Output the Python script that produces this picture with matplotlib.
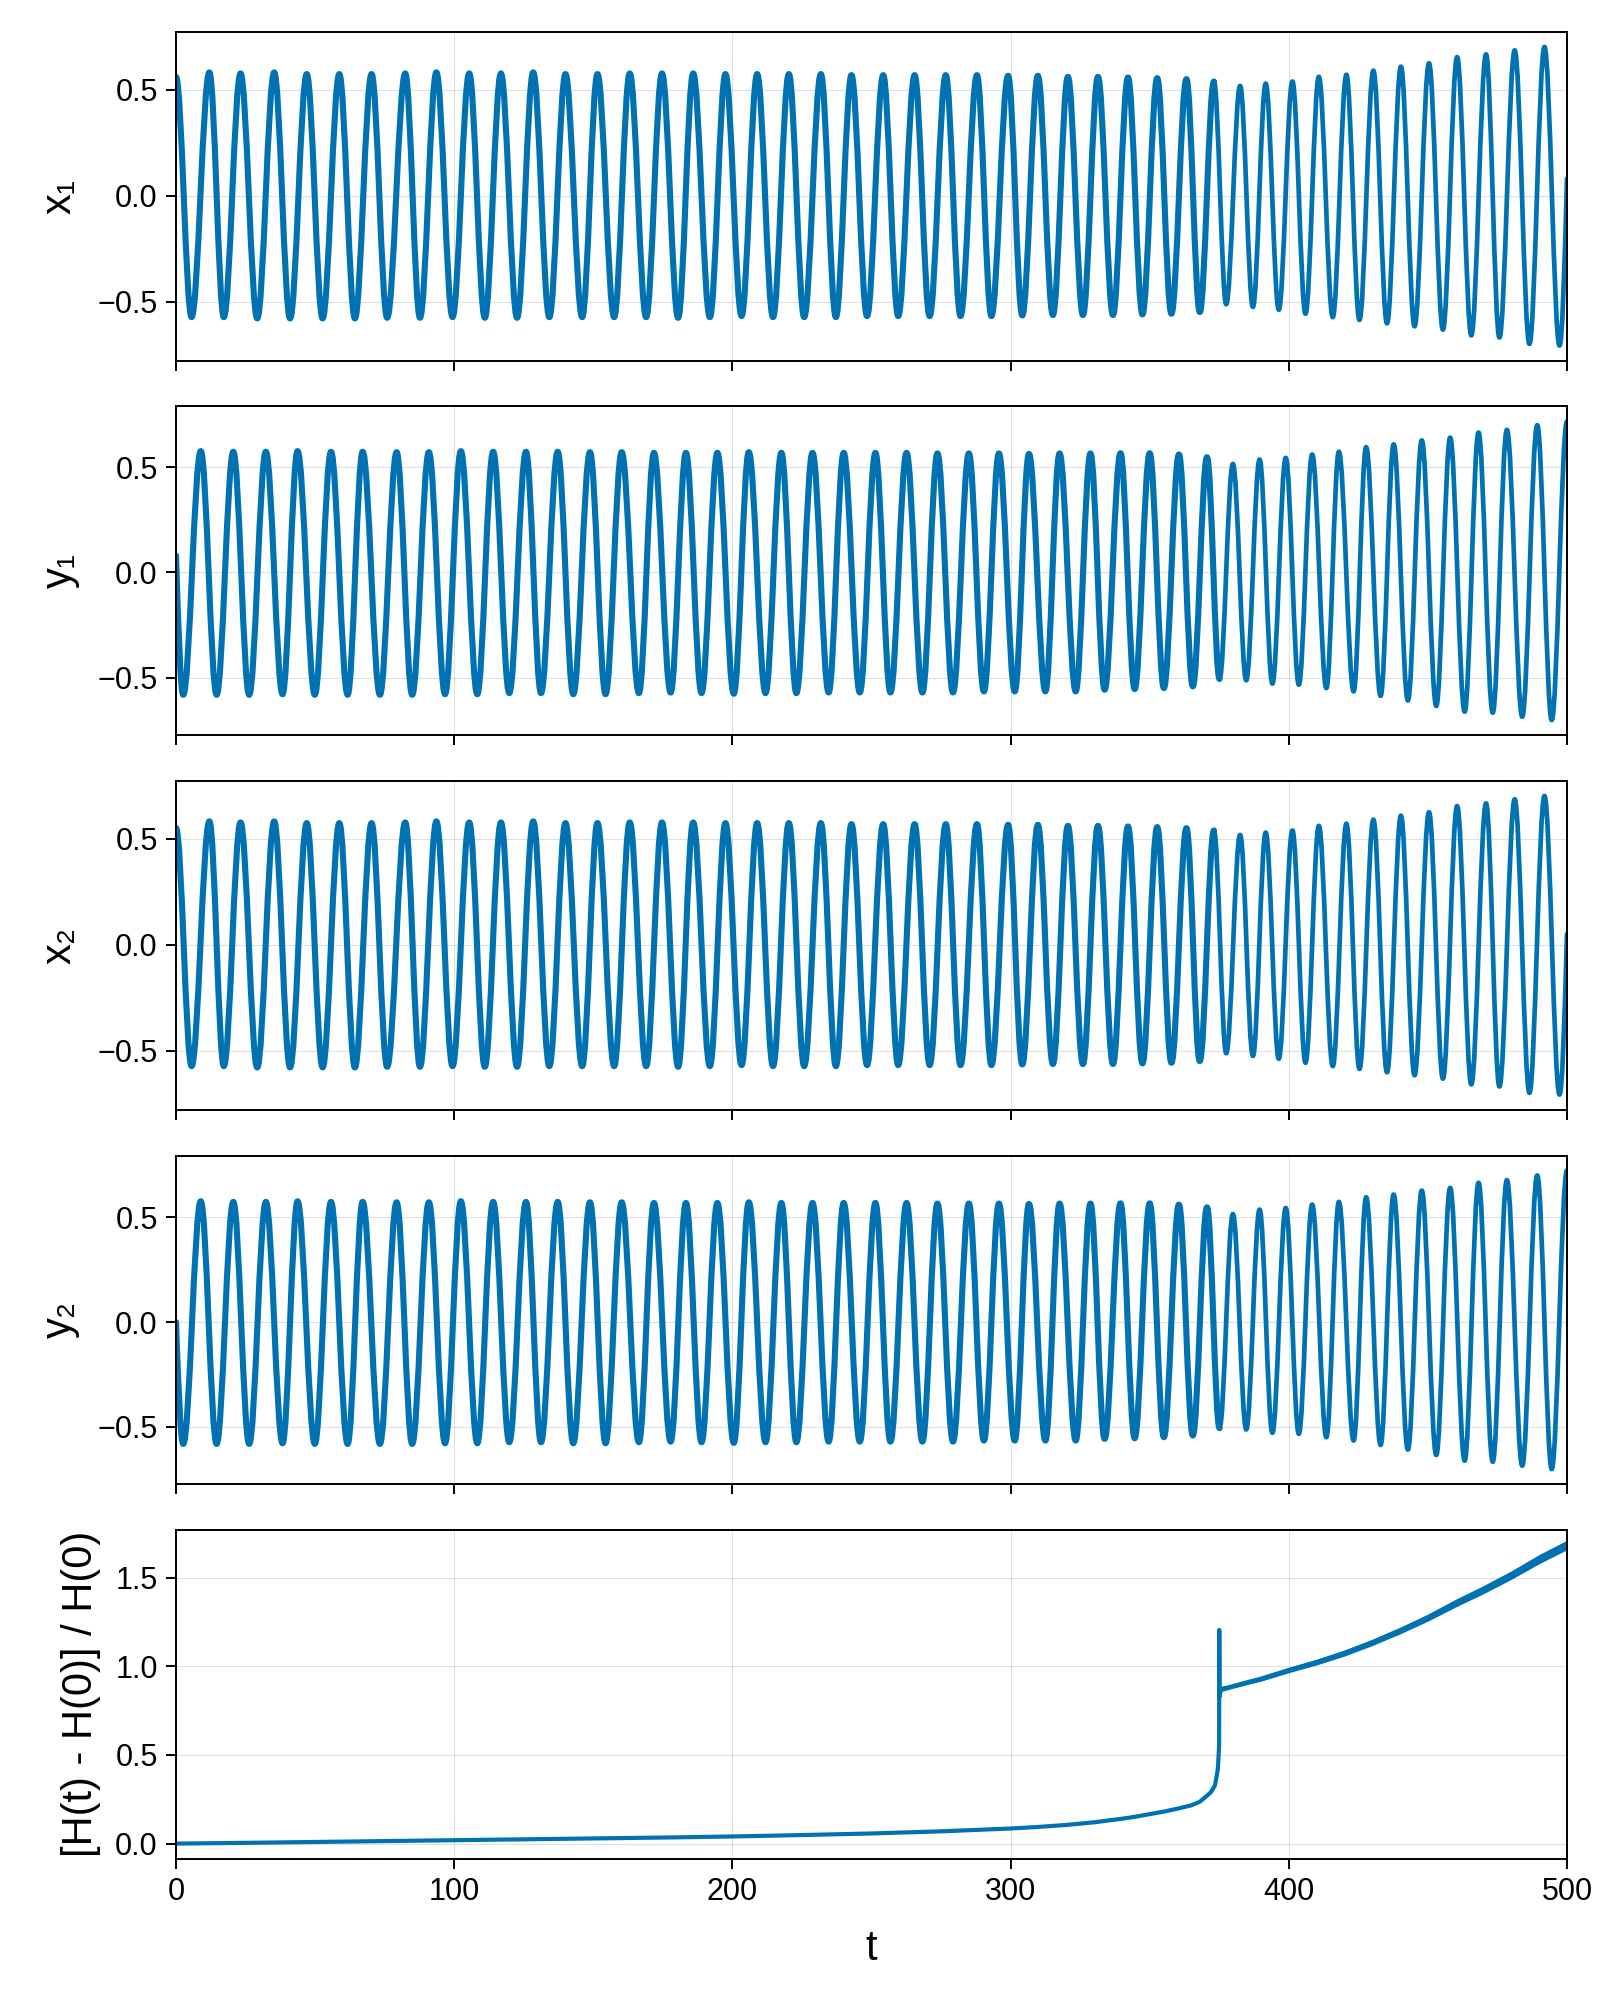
import numpy as np
import matplotlib
matplotlib.use("Agg")
from matplotlib import pyplot as plt
from matplotlib.path import Path
from matplotlib.patches import PathPatch

plt.rcParams['font.family'] = ['Liberation Sans', 'DejaVu Sans']

# extrema (time, value); the curves are drawn through them
x1_start = (0.0, 0.56)
x1_end = (500.0, 0.08)
x1_max_t = [12.0, 23.2, 35.3, 47.0, 58.7, 70.3, 82.4, 93.6, 105.4, 116.8, 128.4, 140.0, 151.5, 163.1,
            174.7, 185.9, 197.5, 208.9, 220.3, 231.8, 242.8, 254.2, 265.5, 276.7, 287.9, 299.1, 309.8,
            320.6, 331.4, 342.2, 352.7, 363.2, 373.1, 382.5, 391.7, 401.3, 410.8, 420.7, 430.4, 440.3,
            450.4, 460.5, 470.9, 481.2, 491.9]
x1_max_v = [0.581, 0.576, 0.581, 0.573, 0.573, 0.573, 0.576, 0.581, 0.576, 0.576, 0.581, 0.573, 0.573, 0.576,
            0.576, 0.576, 0.573, 0.573, 0.573, 0.573, 0.568, 0.568, 0.568, 0.568, 0.568, 0.565, 0.565,
            0.560, 0.560, 0.557, 0.554, 0.549, 0.538, 0.517, 0.528, 0.538, 0.560, 0.570, 0.589, 0.608,
            0.624, 0.653, 0.666, 0.685, 0.701]
x1_min_t = [5.6, 17.2, 29.2, 41.0, 52.7, 64.3, 75.9, 87.7, 99.4, 111.0, 122.6, 134.2, 146.0, 157.5, 169.0,
            180.5, 191.9, 203.3, 214.6, 225.8, 237.2, 248.4, 259.6, 270.9, 282.0, 293.1, 304.2, 315.2,
            326.0, 336.8, 347.4, 357.8, 368.0, 377.5, 387.1, 396.4, 406.0, 415.8, 425.4, 435.3, 445.2,
            455.4, 465.6, 475.7, 486.5, 497.3]
x1_min_v = [-0.573, -0.573, -0.579, -0.579, -0.579, -0.579, -0.576, -0.576, -0.573, -0.576, -0.576, -0.573,
            -0.573, -0.573, -0.573, -0.576, -0.573, -0.568, -0.573, -0.573, -0.573, -0.568, -0.568, -0.568,
            -0.568, -0.568, -0.565, -0.563, -0.563, -0.563, -0.560, -0.557, -0.549, -0.512, -0.525, -0.538,
            -0.557, -0.573, -0.586, -0.602, -0.616, -0.632, -0.659, -0.669, -0.699, -0.707]

y1_start = (0.0, 0.08)
y1_end = (500.0, 0.717)
y1_max_t = [8.9, 20.6, 32.3, 43.7, 55.7, 67.1, 79.3, 90.9, 102.4, 114.0, 125.8, 137.2, 148.8, 160.2,
            171.8, 183.3, 194.6, 205.9, 217.6, 228.8, 240.0, 251.4, 262.6, 273.7, 285.0, 295.8, 306.6,
            317.6, 328.7, 339.5, 350.0, 360.5, 370.6, 379.9, 389.5, 398.9, 408.4, 418.0, 427.8, 437.7,
            447.8, 458.0, 468.2, 478.4, 489.3]
y1_max_v = [0.576, 0.573, 0.573, 0.576, 0.573, 0.573, 0.571, 0.571, 0.576, 0.573, 0.573, 0.573, 0.571, 0.571,
            0.568, 0.568, 0.568, 0.571, 0.568, 0.568, 0.568, 0.568, 0.568, 0.565, 0.565, 0.565, 0.563,
            0.565, 0.565, 0.566, 0.566, 0.560, 0.547, 0.515, 0.536, 0.544, 0.560, 0.573, 0.595, 0.608,
            0.627, 0.640, 0.664, 0.677, 0.699]
y1_min_t = [2.6, 14.6, 26.3, 38.3, 49.9, 61.7, 73.3, 84.9, 96.7, 108.3, 119.8, 131.2, 142.8, 154.4, 166.4,
            177.8, 188.9, 200.5, 211.9, 223.0, 234.6, 245.8, 256.8, 268.3, 279.3, 290.4, 301.5, 312.5,
            323.4, 333.8, 344.6, 355.1, 365.5, 375.1, 384.7, 394.1, 403.6, 413.5, 423.3, 433.0, 442.8,
            453.0, 463.2, 473.3, 483.9, 494.5]
y1_min_v = [-0.581, -0.581, -0.581, -0.578, -0.581, -0.581, -0.581, -0.581, -0.578, -0.578, -0.573, -0.573,
            -0.578, -0.578, -0.573, -0.570, -0.573, -0.576, -0.573, -0.573, -0.570, -0.570, -0.570, -0.570,
            -0.570, -0.565, -0.565, -0.565, -0.565, -0.557, -0.554, -0.549, -0.541, -0.506, -0.512, -0.528,
            -0.533, -0.549, -0.565, -0.586, -0.608, -0.634, -0.661, -0.666, -0.685, -0.701]

# the second oscillator reads the same as the first, apart from the end points
x2_start = (0.0, 0.55)
x2_end = (500.0, 0.05)
x2_max_t, x2_max_v, x2_min_t, x2_min_v = x1_max_t, x1_max_v, x1_min_t, x1_min_v
y2_start = (0.0, 0.0)
y2_end = (500.0, 0.723)
y2_max_t, y2_max_v, y2_min_t, y2_min_v = y1_max_t, y1_max_v, y1_min_t, y1_min_v

# relative energy error
H_t = [0, 25, 50, 75, 100, 125, 150, 175, 200, 225, 250, 275, 300, 310, 320, 330, 340, 345, 350, 355,
       360, 365, 368, 370, 372, 373.5, 374.5, 374.95, 375.0, 375.1, 375.6, 378, 385, 390, 400, 410,
       420, 430, 440, 450, 460, 470, 480, 490, 500]
H_v = [0, 0.004, 0.009, 0.014, 0.019, 0.024, 0.029, 0.034, 0.040, 0.048, 0.057, 0.069, 0.085, 0.094,
       0.105, 0.120, 0.140, 0.152, 0.166, 0.180, 0.197, 0.216, 0.236, 0.262, 0.290, 0.330, 0.420, 0.550,
       1.205, 0.830, 0.872, 0.880, 0.910, 0.930, 0.979, 1.024, 1.075, 1.135, 1.202, 1.275, 1.357, 1.433,
       1.515, 1.605, 1.685]
H_spread = [0] * 30 + [0.015, 0.012, 0.013, 0.014, 0.015, 0.016, 0.017, 0.018, 0.019, 0.020, 0.022,
                       0.023, 0.024, 0.026, 0.027]

jump_t = 375.0  # before the jump the traces carry a fast ripple and look heavier

labels = ['x₁', 'y₁', 'x₂', 'y₂']
series = [
    (x1_start, x1_max_t, x1_max_v, x1_min_t, x1_min_v, x1_end),
    (y1_start, y1_max_t, y1_max_v, y1_min_t, y1_min_v, y1_end),
    (x2_start, x2_max_t, x2_max_v, x2_min_t, x2_min_v, x2_end),
    (y2_start, y2_max_t, y2_max_v, y2_min_t, y2_min_v, y2_end),
]
blue = '#0072B2'


def wave_paths(start, max_t, max_v, min_t, min_v, end):
    t = np.concatenate([[start[0]], max_t, min_t, [end[0]]])
    v = np.concatenate([[start[1]], max_v, min_v, [end[1]]])
    k = np.argsort(t)
    t, v = t[k], v[k]
    # smooth bezier pieces between extrema, flat at each turning point
    c = 0.3642
    pieces = {True: ([], []), False: ([], [])}
    n = len(t)
    for i in range(n - 1):
        dt = t[i + 1] - t[i]
        dv = v[i + 1] - v[i]
        a = (t[i] + c * dt, v[i])
        b = (t[i + 1] - c * dt, v[i + 1])
        if i == 0 and abs(v[0]) < 0.4:
            a = (t[i] + c * dt, v[i] + dv * c * np.pi / 2)
        if i == n - 2 and abs(v[-1]) < 0.4:
            b = (t[i + 1] - c * dt, v[i + 1] - dv * c * np.pi / 2)
        verts, codes = pieces[0.5 * (t[i] + t[i + 1]) < jump_t]
        if not verts or verts[-1] != (t[i], v[i]):
            verts.append((t[i], v[i]))
            codes.append(Path.MOVETO)
        verts += [a, b, (t[i + 1], v[i + 1])]
        codes += [Path.CURVE4] * 3
    return Path(*pieces[True]), Path(*pieces[False]), v.min(), v.max()


def style(ax):
    ax.grid(True, color='black', alpha=0.12, linewidth=0.8)
    ax.set_axisbelow(True)
    for s in ax.spines.values():
        s.set_linewidth(1.4)
    ax.tick_params(direction='out', length=7.2, width=1.4, labelsize=22, pad=6)
    ax.set_xticks([0, 100, 200, 300, 400, 500])
    ax.set_xlim(0, 500)


fig = plt.figure(figsize=(16, 20), dpi=100)
left, width = 176 / 1600, 1391 / 1600
h = 328.5
tops = [32, 406.5, 781, 1155.5, 1530]

for i in range(4):
    ax = fig.add_axes([left, 1 - (tops[i] + h) / 2000, width, h / 2000])
    early, late, lo, hi = wave_paths(*series[i])
    ax.add_patch(PathPatch(early, fill=False, edgecolor=blue, linewidth=4.4, joinstyle='round',
                           capstyle='round'))
    ax.add_patch(PathPatch(late, fill=False, edgecolor=blue, linewidth=3.4, joinstyle='round',
                           capstyle='round'))
    style(ax)
    pad = 0.05 * (hi - lo)
    ax.set_ylim(lo - pad, hi + pad)
    ax.set_yticks([-0.5, 0.0, 0.5])
    ax.tick_params(labelbottom=False)
    ax.set_ylabel(labels[i], fontsize=30, va='center')
    ax.yaxis.set_label_coords(-0.0834, 0.5)

ax = fig.add_axes([left, 1 - (tops[4] + h) / 2000, width, h / 2000])
Ht = np.array(H_t)
Hv = np.array(H_v)
Hs = np.array(H_spread)
post = Ht >= 375.6
ax.fill_between(Ht[post], Hv[post] - Hs[post], Hv[post] + Hs[post], color=blue, linewidth=0)
ax.plot(Ht, Hv, color=blue, linewidth=3.0)
style(ax)
pad = 0.05 * (Hv.max() - Hv.min())
ax.set_ylim(Hv.min() - pad, Hv.max() + pad)
ax.set_yticks([0.0, 0.5, 1.0, 1.5])
ax.set_ylabel('[H(t) - H(0)] / H(0)', fontsize=30, va='center')
ax.yaxis.set_label_coords(-0.068, 0.5)
ax.set_xlabel('t', fontsize=30, va='center')
ax.xaxis.set_label_coords(0.5, -0.277)

fig.savefig('out.png', dpi=100)
